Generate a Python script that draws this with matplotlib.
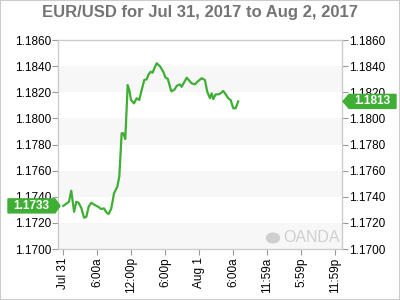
import numpy as np
import matplotlib
matplotlib.use("Agg")
import matplotlib.pyplot as plt
import matplotlib.transforms as mtransforms
from matplotlib.patches import Polygon, Rectangle

# hours since Jul 31 00:00
hours = [0.0, 1.0, 1.4, 1.9, 2.3, 2.7, 3.2, 3.65, 4.06, 4.48, 4.94, 5.54, 6.12, 6.7, 7.18,
         7.59, 8.01, 8.47, 8.95, 9.53, 9.88, 10.3, 10.6, 10.94, 11.36, 11.65, 11.95, 12.48,
         12.95, 13.41, 13.83, 14.29, 14.72, 15.0, 15.42, 15.78, 16.06, 16.48, 17.06, 17.65,
         18.03, 18.44, 19.06, 19.62, 20.01, 20.29, 20.59, 20.89, 21.78, 22.66, 23.24, 23.82,
         24.42, 25.0, 25.41, 25.89, 26.19, 26.47, 26.89, 27.35, 27.78, 28.23, 28.66, 29.12,
         29.54, 30.0, 30.42, 30.88]
prices = [1.1733, 1.17362, 1.17446, 1.17285, 1.17362, 1.17354, 1.17311, 1.17240, 1.17247,
          1.17324, 1.17354, 1.17337, 1.17324, 1.17306, 1.17311, 1.17281, 1.17268, 1.17311,
          1.17426, 1.17477, 1.17553, 1.17886, 1.17886, 1.17842, 1.18255, 1.18217, 1.18141,
          1.18115, 1.18154, 1.18141, 1.18217, 1.18294, 1.18299, 1.18332, 1.18357, 1.18350,
          1.18383, 1.18422, 1.18399, 1.18357, 1.18313, 1.18303, 1.18207, 1.18220, 1.18248,
          1.18255, 1.18259, 1.18242, 1.18311, 1.18268, 1.18261, 1.18286, 1.18307, 1.18294,
          1.18204, 1.18154, 1.18192, 1.18148, 1.18184, 1.18184, 1.18192, 1.18210, 1.18184,
          1.18154, 1.18141, 1.18077, 1.18077, 1.1813]

xtick_pos = [0, 6, 12, 18, 24, 30, 36, 42, 48]
xtick_labels = ["Jul 31", "6:00a", "12:00p", "6:00p", "Aug 1", "6:00a", "11:59a", "5:59p", "11:59p"]
yticks = [1.1700, 1.1720, 1.1740, 1.1760, 1.1780, 1.1800, 1.1820, 1.1840, 1.1860]

green = "#3fae34"
plt.rcParams['font.family'] = ['Liberation Sans', 'DejaVu Sans']

fig = plt.figure(figsize=(4, 3), dpi=100)
ax = fig.add_axes([58/400, 1-249/300, 284/400, 209/300])

# alternating bands
for i in range(0, len(yticks) - 1, 2):
    ax.axhspan(yticks[i], yticks[i+1], color="#f7f7f7", lw=0, zorder=0)

ax.plot(hours, prices, color=green, lw=1.6, zorder=3)

ax.set_xlim(-0.94, 49.2)
ax.set_ylim(1.1700, 1.1860)
ax.set_yticks(yticks)
ax.set_yticklabels(["%.4f" % t for t in yticks])
ax.set_xticks(xtick_pos)
ax.set_xticklabels(xtick_labels, rotation=90)
ax.tick_params(axis="y", which="both", left=True, right=True, labelleft=True, labelright=True,
               length=4, width=0.8, color="#999999", labelsize=8.5, pad=1, direction="out")
ax.tick_params(axis="x", length=4, width=0.8, color="#999999", labelsize=8.5, pad=2)
for s in ax.spines.values():
    s.set_color("#cccccc")
    s.set_linewidth(1)

fig.text(0.5, 1-13/300, "EUR/USD for Jul 31, 2017 to Aug 2, 2017", ha="center", va="center",
         fontsize=12, fontweight="bold", color="#747474")

# value flags
tr = mtransforms.blended_transform_factory(fig.transFigure, ax.transData)
h = 7 * 0.016 / 209
first, last = prices[0], prices[-1]
poly_l = Polygon([(8/400, first-h), (55/400, first-h), (60/400, first), (55/400, first+h), (8/400, first+h)],
                 closed=True, transform=tr, color=green, clip_on=False, zorder=5)
fig.add_artist(poly_l)
fig.text(31/400, first, "%.4f" % first, transform=tr, ha="center", va="center", color="white",
         fontsize=8.5, fontweight="bold", zorder=6)
poly_r = Polygon([(343/400, last), (349/400, last-h), (396/400, last-h), (396/400, last+h), (349/400, last+h)],
                 closed=True, transform=tr, color=green, clip_on=False, zorder=5)
fig.add_artist(poly_r)
fig.text(372/400, last, "%.4f" % last, transform=tr, ha="center", va="center", color="white",
         fontsize=8.5, fontweight="bold", zorder=6)

# watermark
fig.text(311/400, 1-238/300, "OANDA", ha="center", va="center", fontsize=11.5, color="#cfcfcf")
fig.add_artist(plt.Circle((273/400, 1-238/300), 6.5/400, transform=fig.transFigure,
                          color="#cfcfcf", fill=True))

fig.add_artist(Rectangle((0, 0), 1, 1, transform=fig.transFigure, fill=False,
                         edgecolor="#cccccc", lw=1.5))

fig.savefig("out.png", dpi=100)
